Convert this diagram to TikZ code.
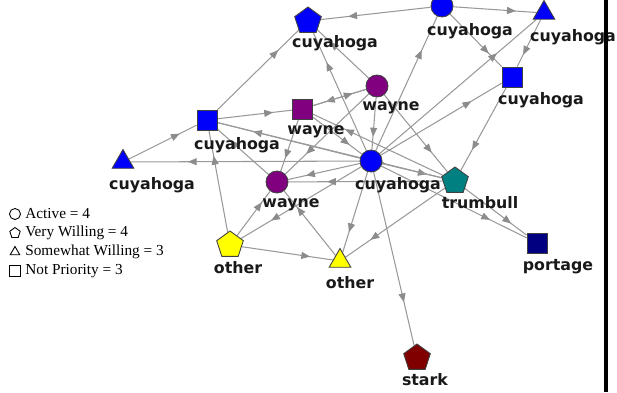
\documentclass[tikz,border=0pt]{standalone}
\usepackage{fontspec}
\setmainfont{Liberation Serif}
\newfontfamily\labfont{DejaVu Sans}
\usetikzlibrary{shapes.geometric, arrows.meta, decorations.markings, backgrounds}

\definecolor{cuyblue}{RGB}{0,0,250}
\definecolor{wayneviolet}{RGB}{128,0,128}
\definecolor{trumteal}{RGB}{0,128,128}
\definecolor{otheryellow}{RGB}{255,255,0}
\definecolor{portnavy}{RGB}{0,0,128}
\definecolor{starkred}{RGB}{128,0,0}

\tikzset{
  vert/.style={draw=black!75, line width=.5pt, inner sep=0pt},
  active/.style={vert, circle, minimum size=.44cm},
  willing/.style={vert, regular polygon, regular polygon sides=5, minimum size=.56cm},
  somewhat/.style={vert, regular polygon, regular polygon sides=3, minimum size=.5cm},
  notprio/.style={vert, rectangle, minimum size=.4cm},
  county/.style={font=\labfont\bfseries\fontsize{9}{10}\selectfont, text=black!90, inner sep=0pt},
  link/.style={draw=black!40, line width=.6pt, postaction={decorate},
    decoration={markings, mark=at position .75 with {\arrow[black!45]{Triangle[length=5pt,width=4pt]}}}},
  legsym/.style={fill=none, draw=black, line width=.5pt, minimum size=.22cm},
  legtxt/.style={font=\fontsize{8.7}{10}\selectfont, inner sep=0pt, anchor=west},
}

\begin{document}
\begin{tikzpicture}[x=.02cm, y=-.02cm]
  \useasboundingbox (0,0) rectangle (617,392);

  % counties
  \node[willing, fill=cuyblue] (p1) at (308,21) {};
  \node[active, fill=cuyblue] (c1) at (442,6) {};
  \node[somewhat, fill=cuyblue] (t1) at (544,13) {};
  \node[notprio, fill=cuyblue] (s1) at (512,77) {};
  \node[active, fill=wayneviolet] (w1) at (377,86) {};
  \node[notprio, fill=wayneviolet] (w2) at (302,109) {};
  \node[notprio, fill=cuyblue] (s2) at (207,120) {};
  \node[somewhat, fill=cuyblue] (t2) at (123,162) {};
  \node[active, fill=cuyblue] (c2) at (371,161) {};
  \node[active, fill=wayneviolet] (w3) at (277,182) {};
  \node[willing, fill=trumteal] (tr) at (455,181) {};
  \node[willing, fill=otheryellow] (y1) at (230,245) {};
  \node[somewhat, fill=otheryellow] (y2) at (340,261) {};
  \node[notprio, fill=portnavy] (po) at (537,243) {};
  \node[willing, fill=starkred] (st) at (417,358) {};

  % ties
  \begin{scope}[on background layer]
    \foreach \from/\to in {c1/p1, c1/t1, c1/s1, t1/s1, c2/t1, c2/c1, c2/s1, c2/p1,
        w1/p1, s2/p1, t2/s2, s2/w2, c2/s2, c2/t2, c2/w3, c2/y1, c2/y2, c2/st,
        c2/tr, c2/po, w1/c2, w2/c2, s1/tr, tr/w2, tr/y2, tr/po, tr/w3, s2/tr,
        w1/tr, w1/w2, w2/w1, w3/s2, y1/s2, w2/w3, w1/w3, y1/w3, y1/y2, y2/w3}
      \draw[link] (\from) -- (\to);
  \end{scope}

  % names
  \node[county] (p1l) at (335,43) {cuyahoga};
  \node[county] (c1l) at (470,31) {cuyahoga};
  \node[county] (t1l) at (573,37) {cuyahoga};
  \node[county] (s1l) at (541,100) {cuyahoga};
  \node[county] (w1l) at (391,108) {wayne};
  \node[county] (w2l) at (316,132) {wayne};
  \node[county] (s2l) at (237,145) {cuyahoga};
  \node[county] (t2l) at (152,185) {cuyahoga};
  \node[county] (c2l) at (398,185) {cuyahoga};
  \node[county] (w3l) at (291,205) {wayne};
  \node[county] (trl) at (480,203) {trumbull};
  \node[county] (y1l) at (238,268) {other};
  \node[county] (y2l) at (350,283) {other};
  \node[county] (pol) at (558,267) {portage};
  \node[county] (stl) at (425,380) {stark};

  % key
  \foreach \kind/\txt [count=\i] in {active/Active = 4, willing/Very Willing = 4,
      somewhat/Somewhat Willing = 3, notprio/Not Priority = 3}{
    \node[\kind, legsym] (sym\i) at (15,195+19*\i) {};
    \node[legtxt] (txt\i) at (25,195+19*\i) {\txt};
  }

  \draw[line width=1.8pt] (606,0) -- (606,392);
\end{tikzpicture}
\end{document}
